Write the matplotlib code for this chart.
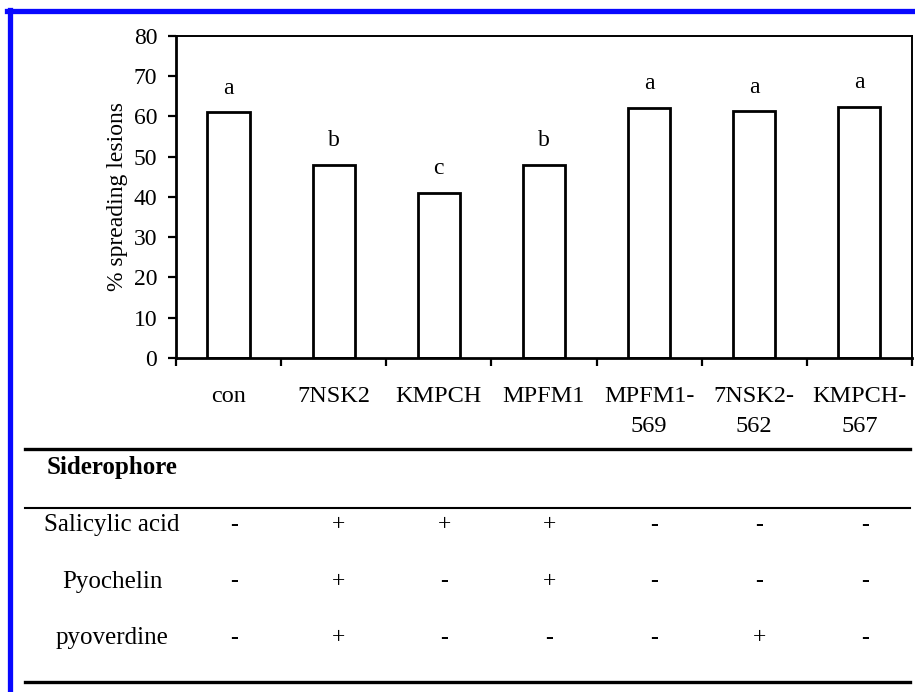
import matplotlib
matplotlib.use("Agg")
from matplotlib import pyplot as plt
from matplotlib.lines import Line2D
from matplotlib.transforms import blended_transform_factory

plt.rcParams['font.family'] = ['Liberation Serif', 'DejaVu Serif']

strains = ['con', '7NSK2', 'KMPCH', 'MPFM1', 'MPFM1-\n569', '7NSK2-\n562', 'KMPCH-\n567']
lesions = [61, 48, 41, 48, 62.2, 61.3, 62.4]
groups = ['a', 'b', 'c', 'b', 'a', 'a', 'a']

siderophores = ['Salicylic acid', 'Pyochelin', 'pyoverdine']
salicylic = ['-', '+', '+', '+', '-', '-', '-']
pyochelin = ['-', '+', '-', '+', '-', '-', '-']
pyoverdine = ['-', '+', '-', '-', '-', '+', '-']

fig = plt.figure(figsize=(9.15, 6.92), dpi=100)
ax = fig.add_axes([0.1923, 0.4827, 0.8044, 0.4653])

pos = list(range(len(strains)))
ax.bar(pos, lesions, width=0.4, color='white', edgecolor='black', linewidth=2.0)
for i, (v, g) in enumerate(zip(lesions, groups)):
    ax.text(i, v + 6, g, ha='center', va='center', fontsize=17)

ax.set_xlim(-0.5, len(strains) - 0.5)
ax.set_ylim(0, 80)
ax.set_yticks(range(0, 81, 10))
ax.set_xticks([p - 0.5 for p in pos] + [len(strains) - 0.5])
ax.set_xticklabels([])
ax.set_xticks(pos, minor=True)
ax.set_xticklabels(strains, minor=True, fontsize=17.5, linespacing=1.55)
ax.tick_params(axis='x', which='major', direction='out', length=5.5, width=1.6)
ax.tick_params(axis='x', which='minor', length=0, pad=20)
ax.tick_params(axis='y', direction='out', length=5.5, width=1.6, pad=8, labelsize=17)
ax.set_ylabel('% spreading lesions', fontsize=17, labelpad=4)

for side in ['left', 'bottom']:
    ax.spines[side].set_linewidth(2.0)
for side in ['top', 'right']:
    ax.spines[side].set_linewidth(1.4)

# siderophore table under the chart
tr = blended_transform_factory(ax.transData, fig.transFigure)
fig.add_artist(Line2D([0.027, 0.9945], [0.3512, 0.3512], color='black', lw=2.4))
fig.add_artist(Line2D([0.027, 0.9945], [0.2659, 0.2659], color='black', lw=1.5))
fig.add_artist(Line2D([0.027, 0.9945], [0.0145, 0.0145], color='black', lw=2.4))
fig.text(0.1224, 0.3251, 'Siderophore', ha='center', va='center', fontsize=18, fontweight='bold')

rows = [salicylic, pyochelin, pyoverdine]
row_y = [0.2413, 0.159, 0.078]
for name, marks, y in zip(siderophores, rows, row_y):
    fig.text(0.1224, y, name, ha='center', va='center', fontsize=18)
    for i, m in enumerate(marks):
        ax.text(i + 0.05, y, m, transform=tr, ha='center', va='center', fontsize=17,
                fontweight='bold' if m == '-' else 'normal')

# blue frame around the figure
fig.add_artist(Line2D([0.008, 1.0], [0.9834, 0.9834], color='#0808ff', lw=3.8))
fig.add_artist(Line2D([0.0104, 0.0104], [0.0, 0.986], color='#0808ff', lw=3.8))

fig.savefig('out.png', dpi=100)
